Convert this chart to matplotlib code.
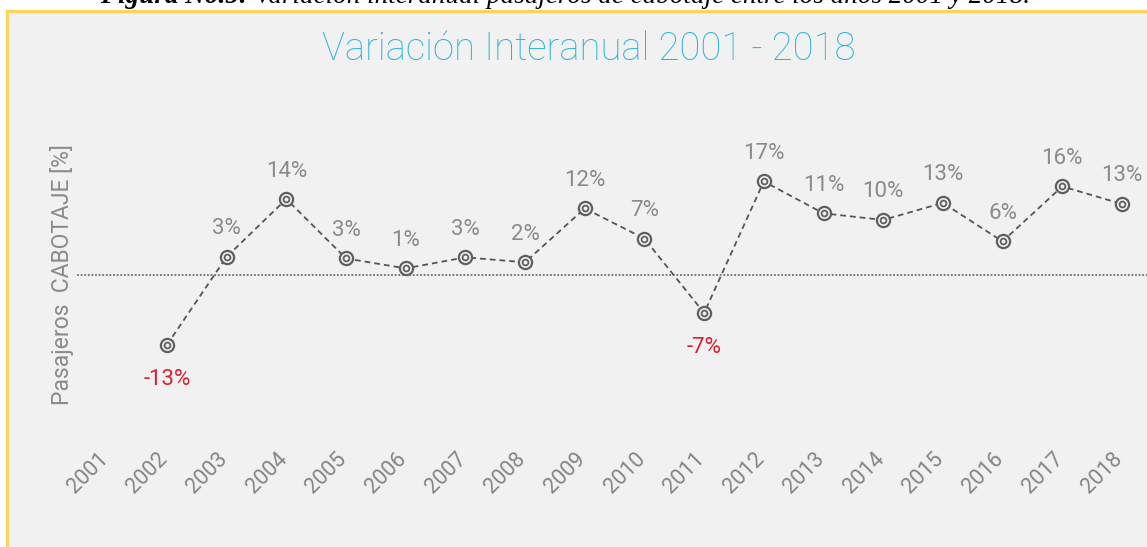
import numpy as np
import matplotlib
matplotlib.use("Agg")
import matplotlib.pyplot as plt
from matplotlib.lines import Line2D
from matplotlib.transforms import ScaledTranslation

# data
years = ["2001", "2002", "2003", "2004", "2005", "2006", "2007", "2008", "2009",
         "2010", "2011", "2012", "2013", "2014", "2015", "2016", "2017", "2018"]
variacion = [np.nan, -12.7, 3.3, 13.8, 3.0, 1.2, 3.2, 2.3, 12.1,
             6.6, -6.9, 17.0, 11.2, 10.0, 13.1, 6.1, 16.1, 12.9]

titulo = "Variación Interanual 2001 - 2018"
eje_y = "Pasajeros  CABOTAJE [%]"
caption_bold = "Figura No.5:"
caption_rest = " Variación interanual pasajeros de cabotaje entre los años 2001 y 2018."

plt.rcParams['font.family'] = ['Roboto', 'DejaVu Sans']

W, H = 1147, 547
fig = plt.figure(figsize=(W / 100, H / 100), dpi=100)
fig.patch.set_facecolor("white")

bg = "#f1f1f1"
ax = fig.add_axes([7 / W, 0, 1 - 7 / W, 1 - 12 / H])
ax.set_facecolor(bg)
for s in ax.spines.values():
    s.set_visible(False)

x = np.arange(len(years))
y = np.array(variacion)

ax.set_xlim(-1.68, 17.42)
ax.set_ylim(-49.45, 47.8)

# zero line
ax.plot([-0.5, 17.42], [0, 0], color="#6f6f6f", lw=1.3, ls=(0, (1, 1)), zorder=1)

# series
ax.plot(x, y, color="#555555", lw=1.3, ls=(0, (3.2, 2.2)), zorder=2)
ax.plot(x, y, ls="none", marker="o", ms=9.5, mfc=bg, mec="#5f5f5f", mew=1.6, zorder=3)
ax.plot(x, y, ls="none", marker="o", ms=4.2, mfc=bg, mec="#5f5f5f", mew=1.3, zorder=4)

for xi, v in zip(x, variacion):
    if np.isnan(v):
        continue
    lab = f"{v:.0f}%"
    if v >= 0:
        ax.annotate(lab, (xi, v), xytext=(0, 28), textcoords="offset pixels",
                    ha="center", va="center", fontsize=16, color="#8a8a8a")
    else:
        ax.annotate(lab, (xi, v), xytext=(0, -35), textcoords="offset pixels",
                    ha="center", va="center", fontsize=16, color="#d7212e")

ax.set_xticks(x)
ax.set_xticklabels(years, rotation=45, ha="right", fontsize=15.5, color="#858585")
ax.tick_params(axis="x", length=0, pad=-71)
ax.set_yticks([])
shift = ScaledTranslation(5 / 100, 0, fig.dpi_scale_trans)
for lbl in ax.get_xticklabels():
    lbl.set_transform(lbl.get_transform() + shift)

# y label
fig.text(62 / W, 1 - 275 / H, eje_y, rotation=90, ha="center", va="center",
         fontsize=16.5, color="#8a8a8a")

# title
fig.text(589 / W, 1 - 49 / H, titulo, ha="center", va="center",
         fontsize=27.5, fontweight="light", color="#2ab4d8")

# yellow frame (top and left)
fig.add_artist(Line2D([7 / W, 1], [1 - 11 / H, 1 - 11 / H], color="#fdd35a", lw=2.2))
fig.add_artist(Line2D([7 / W, 7 / W], [0, 1 - 11 / H], color="#fdd35a", lw=2.2))

# caption cut at the top
t1 = fig.text(100 / W, 1 - 3 / H, caption_bold, ha="left", va="baseline",
              fontsize=19.5, fontweight="bold", fontstyle="italic",
              family="Liberation Serif", color="black")
fig.canvas.draw()
bb = t1.get_window_extent()
fig.text(bb.x1 / W, 1 - 3 / H, caption_rest, ha="left", va="baseline",
         fontsize=19.5, fontstyle="italic", family="Liberation Serif", color="black")

fig.savefig("out.png", dpi=100, facecolor=fig.get_facecolor())
